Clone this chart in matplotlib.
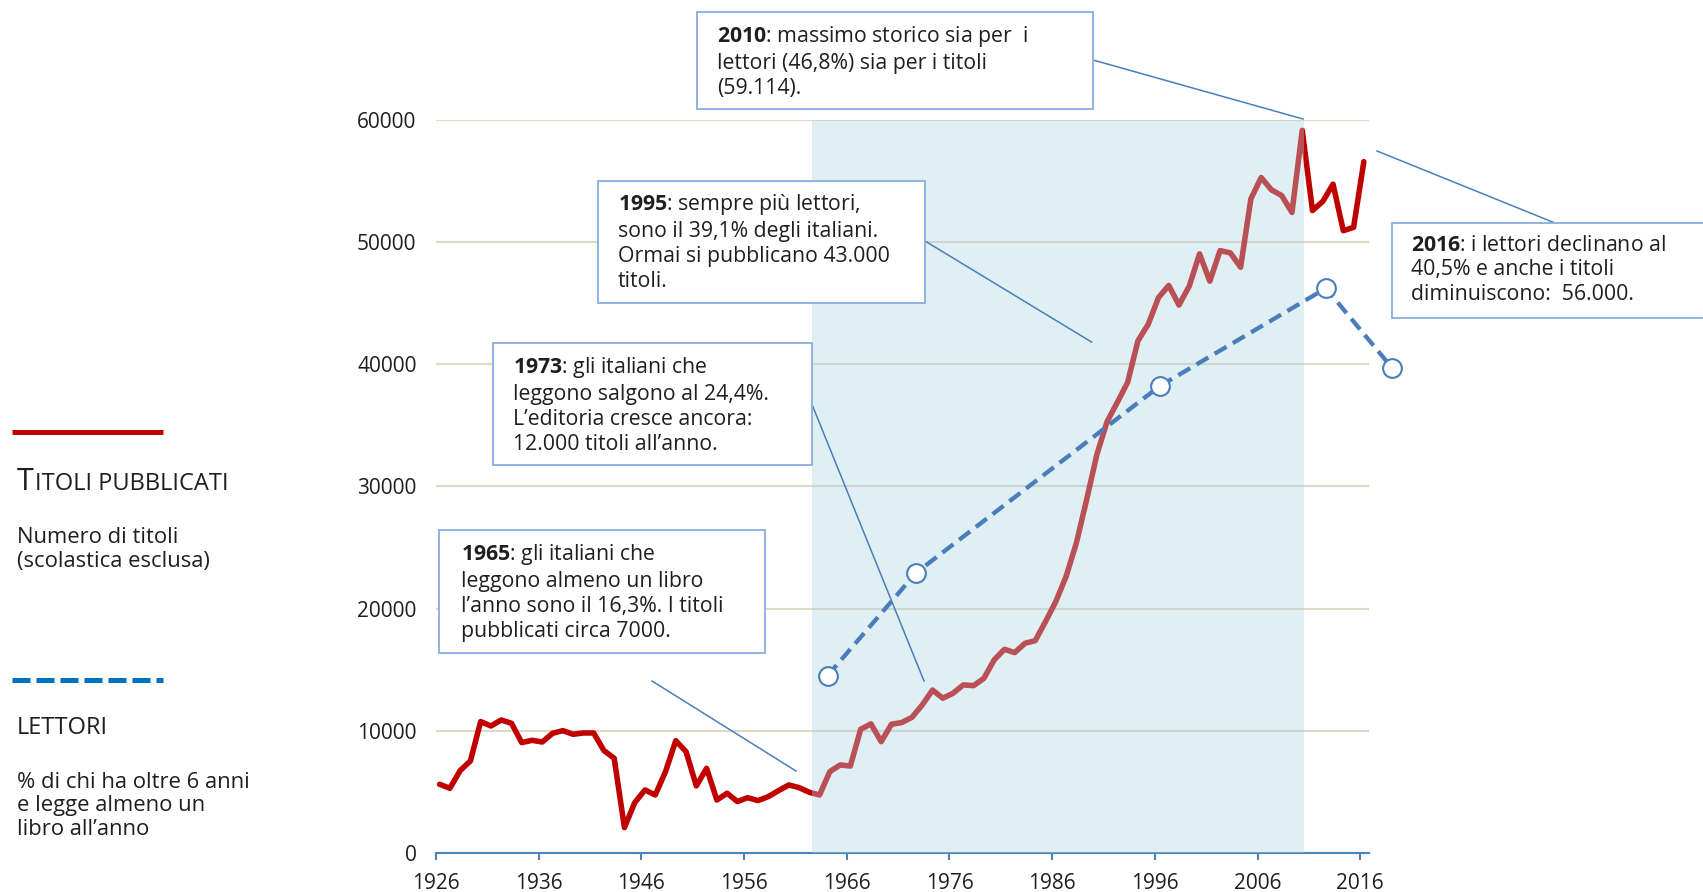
import matplotlib
matplotlib.use("Agg")
import matplotlib.pyplot as plt
from matplotlib.lines import Line2D
from matplotlib.patches import Rectangle
import numpy as np

plt.rcParams['font.family'] = ['Open Sans', 'DejaVu Sans']
plt.rcParams['mathtext.fontset'] = 'custom'
plt.rcParams['mathtext.rm'] = 'Open Sans'
plt.rcParams['mathtext.bf'] = 'Open Sans:bold'

# titoli pubblicati per anno (scolastica esclusa)
anni = list(range(1926, 2017))
titoli = [5640, 5315, 6760, 7550, 10770, 10410, 10900, 10630, 9050, 9240,
          9100, 9810, 10030, 9730, 9840, 9840, 8400, 7770, 2100, 4140,
          5180, 4770, 6680, 9210, 8310, 5510, 6950, 4360, 4910, 4230,
          4550, 4310, 4630, 5120, 5590, 5370, 4990, 4770, 6680, 7220,
          7140, 10140, 10580, 9130, 10550, 10690, 11120, 12130, 13350, 12680,
          13090, 13770, 13710, 14310, 15810, 16680, 16410, 17170, 17390, 18940,
          20580, 22620, 25350, 28890, 32600, 35300, 36880, 38510, 41900, 43250,
          45430, 46430, 44830, 46380, 49010, 46780, 49280, 49090, 47920, 53510,
          55250, 54250, 53780, 52400, 59114, 52560, 53300, 54710, 50910, 51180,
          56550]

# lettori: % di chi ha oltre 6 anni e legge almeno un libro
anni_lettori = [1965, 1973, 1995, 2010, 2016]
lettori = [16.3, 24.4, 39.1, 46.8, 40.5]

x_ticks = list(range(1926, 2017, 10))
y_ticks = [0, 10000, 20000, 30000, 40000, 50000, 60000]

W_PX, H_PX = 1703, 892
RED = '#C00000'
BLUE = '#4A7EBB'
TXT = '#1F1F1F'
BOX_EDGE = '#8EB4E3'


def fx(x):
	return x / W_PX


def fy(y):
	return 1 - y / H_PX


fig = plt.figure(figsize=(W_PX / 100, H_PX / 100), dpi=100)

# main axes (titoli)
ax = fig.add_axes([fx(436), fy(853.3), fx(975.6), 733.8 / H_PX])
ax.set_xlim(1926, 2021)
ax.set_ylim(0, 60000)

ax.hlines(y_ticks[1:], 1926, 2016.9, color='#DDD9C3', lw=1.5, zorder=1)

ax.plot(np.array(anni) + 0.35, titoli, color=RED, lw=4,
		solid_joinstyle='round', solid_capstyle='round', zorder=2)

# shaded period 1963-2010
ax.axvspan(1962.6, 2010.5, color=(176/255, 213/255, 226/255), alpha=0.38, lw=0, zorder=3)

for s in ['left', 'top', 'right']:
	ax.spines[s].set_visible(False)
ax.spines['bottom'].set_color('#4F81BD')
ax.spines['bottom'].set_linewidth(1.5)
ax.spines['bottom'].set_bounds(1926, 2016.9)

ax.set_xticks(x_ticks)
ax.set_xticklabels([str(t) for t in x_ticks])
ax.set_yticks(y_ticks)
ax.set_yticklabels([str(t) for t in y_ticks])
ax.tick_params(axis='x', length=5, width=1.5, color='#4F81BD', pad=9.5, labelsize=15, labelcolor=TXT)
ax.tick_params(axis='y', length=0, pad=14, labelsize=15, labelcolor=TXT)

# lettori on its own scale
ax2 = fig.add_axes(ax.get_position(), frameon=False)
ax2.set_xlim(1965 + (1926 - 1964.13) / 1.0784, 1965 + (2021 - 1964.13) / 1.0784)
ax2.set_ylim(2396 / 1038.4, (60000 + 2396) / 1038.4)
ax2.axis('off')
ax2.plot(anni_lettori, lettori, color=BLUE, lw=3.1, linestyle=(0, (3.2, 1.7)),
		 marker='o', ms=13.5, mfc='white', mec=BLUE, mew=1.5, clip_on=False, zorder=4)

# annotation boxes: (left, top, right, bottom), text left, text middle y, text
boxes = [
	((697, 12, 1093, 109), 717, 61.5,
	 "$\\mathbf{2010}$: massimo storico sia per  i\nlettori (46,8%) sia per i titoli\n(59.114)."),
	((598, 181, 925, 303), 618, 242,
	 "$\\mathbf{1995}$: sempre più lettori,\nsono il 39,1% degli italiani.\nOrmai si pubblicano 43.000\ntitoli."),
	((493, 343, 812, 465), 513, 405,
	 "$\\mathbf{1973}$: gli italiani che\nleggono salgono al 24,4%.\nL’editoria cresce ancora:\n12.000 titoli all’anno."),
	((439, 530, 765, 653), 461, 592,
	 "$\\mathbf{1965}$: gli italiani che\nleggono almeno un libro\nl’anno sono il 16,3%. I titoli\npubblicati circa 7000."),
	((1392, 223, 1712, 318), 1411, 270,
	 "$\\mathbf{2016}$: i lettori declinano al\n40,5% e anche i titoli\ndiminuiscono:  56.000."),
]
connectors = [
	((1093, 60), (1303, 119)),
	((925, 241), (1091.5, 342)),
	((811, 402), (924, 681)),
	((652, 681), (796, 771)),
	((1377, 151), (1555, 223)),
]

for (p0, p1) in connectors:
	fig.add_artist(Line2D([fx(p0[0]), fx(p1[0])], [fy(p0[1]), fy(p1[1])],
						  color=BLUE, lw=1.1, zorder=5))

for (l, t, r, b), tx, ty, s in boxes:
	fig.add_artist(Rectangle((fx(l), fy(b)), fx(r - l), (b - t) / H_PX,
							 facecolor='white', edgecolor=BOX_EDGE, lw=1.4, zorder=6))
	fig.text(fx(tx), fy(ty), s, ha='left', va='center', fontsize=15.3,
			 color=TXT, linespacing=1.23, zorder=7)

# legend on the left
fig.add_artist(Line2D([fx(12), fx(163)], [fy(432), fy(432)], color=RED, lw=3.6,
					  solid_capstyle='butt'))
fig.add_artist(Line2D([fx(12), fx(163)], [fy(680), fy(680)], color='#0070C0', lw=3.6,
					  linestyle=(0, (3.6, 1.2)), dash_capstyle='butt'))

t_big = fig.text(fx(17), fy(490), "T", fontsize=22, color=TXT, va='baseline', ha='left')
fig.canvas.draw()
bb = t_big.get_window_extent()
fig.text(bb.x1 / W_PX + 0.0005, fy(490), "ITOLI PUBBLICATI", fontsize=17, color=TXT,
		 va='baseline', ha='left')
fig.text(fx(17), fy(549.5), "Numero di titoli\n(scolastica esclusa)", fontsize=15.8,
		 color=TXT, va='center', ha='left', linespacing=1.15)
fig.text(fx(17), fy(734), "LETTORI", fontsize=17, color=TXT, va='baseline', ha='left')
fig.text(fx(17), fy(806), "% di chi ha oltre 6 anni\ne legge almeno un\nlibro all’anno",
		 fontsize=15.8, color=TXT, va='center', ha='left', linespacing=1.15)

fig.savefig("out.png", dpi=100)
